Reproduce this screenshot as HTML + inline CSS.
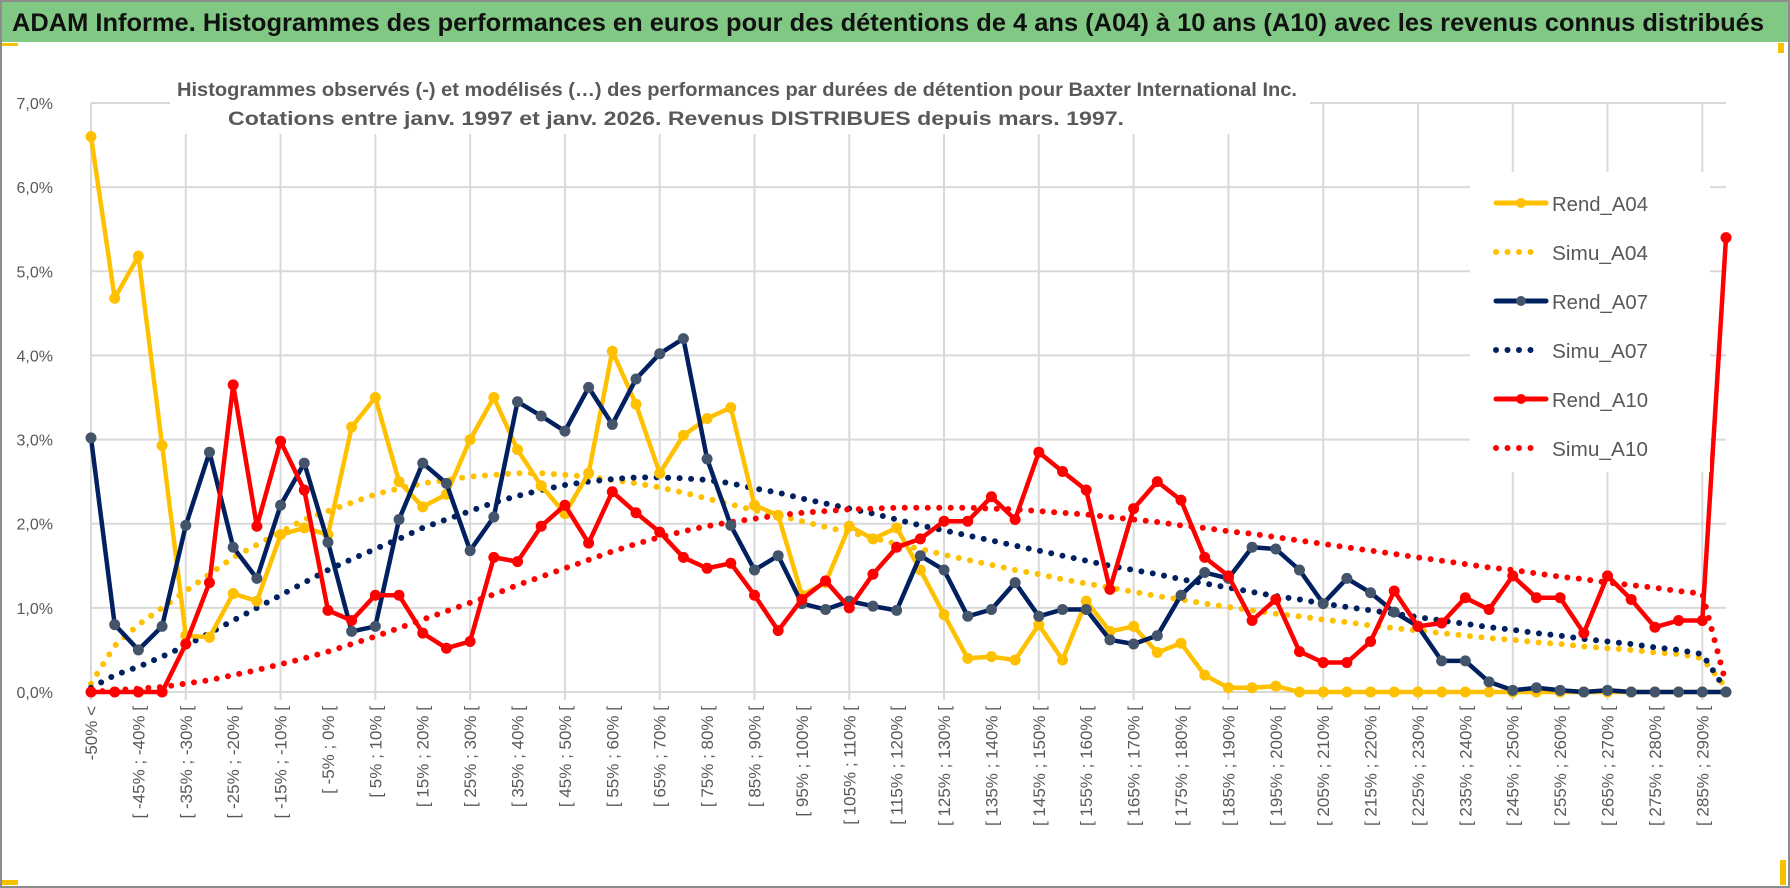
<!DOCTYPE html>
<html><head><meta charset="utf-8"><style>
html,body{margin:0;padding:0;background:#fff;}
svg{display:block;font-family:"Liberation Sans",sans-serif;}
</style></head><body>
<svg id="chart" width="1790" height="888" viewBox="0 0 1790 888" xmlns="http://www.w3.org/2000/svg">
<rect x="0" y="0" width="1790" height="888" fill="#fff"/>
<rect x="1" y="1" width="1788" height="886" fill="none" stroke="#8c8c8c" stroke-width="2"/>
<rect x="2" y="2" width="1786" height="40" fill="#80c883"/>
<text x="12" y="31" font-size="25" font-weight="bold" fill="#111" textLength="1752" lengthAdjust="spacingAndGlyphs">ADAM Informe. Histogrammes des performances en euros pour des détentions de 4 ans (A04) à 10 ans (A10) avec les revenus connus distribués</text>
<rect x="2" y="43" width="16" height="3" fill="#f5c000"/>
<rect x="1778" y="43" width="6" height="10" fill="#f5c000"/>
<rect x="2" y="880" width="16" height="5" fill="#f5c000"/>
<rect x="1780" y="860" width="6" height="25" fill="#f5c000"/>
<g id="grid"></g>
<rect x="170" y="72" width="1140" height="62" fill="#fff"/>
<text x="737" y="96" font-size="19" font-weight="bold" fill="#595959" text-anchor="middle" textLength="1120" lengthAdjust="spacingAndGlyphs">Histogrammes observés (-) et modélisés (…) des performances par durées de détention pour Baxter International Inc.</text>
<text x="676" y="125" font-size="19" font-weight="bold" fill="#595959" text-anchor="middle" textLength="896" lengthAdjust="spacingAndGlyphs">Cotations entre janv. 1997 et janv. 2026. Revenus DISTRIBUES depuis mars. 1997.</text>
<g id="series"></g>
<g id="legend"></g>
</svg>
<script>
const rendA04=[6.6,4.68,5.18,2.93,0.67,0.65,1.17,1.08,1.87,1.95,1.87,3.15,3.5,2.5,2.2,2.35,3.0,3.5,2.88,2.45,2.12,2.6,4.05,3.42,2.6,3.05,3.25,3.38,2.22,2.1,1.15,1.3,1.97,1.82,1.95,1.45,0.92,0.4,0.42,0.38,0.8,0.38,1.08,0.72,0.78,0.47,0.58,0.2,0.05,0.05,0.07,0,0,0,0,0,0,0,0,0,0,0,0,0,0,0,0,0,0,0];
const simuA04=[0.1,0.55,0.8,1.0,1.2,1.4,1.6,1.75,1.9,2.05,2.15,2.25,2.35,2.42,2.48,2.52,2.56,2.58,2.6,2.6,2.58,2.56,2.52,2.48,2.43,2.37,2.3,2.23,2.16,2.1,2.03,1.96,1.9,1.83,1.76,1.7,1.63,1.57,1.51,1.45,1.4,1.34,1.29,1.24,1.19,1.14,1.1,1.05,1.01,0.97,0.93,0.9,0.86,0.83,0.79,0.76,0.73,0.7,0.67,0.64,0.62,0.59,0.57,0.54,0.52,0.5,0.47,0.45,0.4,0.05];
const rendA07=[3.02,0.8,0.5,0.78,1.98,2.85,1.72,1.35,2.22,2.72,1.78,0.72,0.78,2.05,2.72,2.48,1.68,2.08,3.45,3.28,3.1,3.62,3.18,3.72,4.02,4.2,2.77,1.98,1.45,1.62,1.05,0.98,1.08,1.02,0.97,1.62,1.45,0.9,0.98,1.3,0.9,0.98,0.98,0.62,0.57,0.67,1.15,1.42,1.35,1.72,1.7,1.45,1.05,1.35,1.18,0.95,0.78,0.37,0.37,0.12,0.02,0.05,0.02,0,0.02,0,0,0,0,0];
const simuA07=[0.05,0.2,0.3,0.42,0.55,0.7,0.85,1.0,1.15,1.3,1.45,1.58,1.7,1.82,1.95,2.05,2.15,2.25,2.33,2.4,2.46,2.5,2.53,2.55,2.55,2.54,2.52,2.48,2.42,2.37,2.3,2.24,2.18,2.12,2.05,1.98,1.92,1.86,1.8,1.74,1.68,1.62,1.56,1.5,1.45,1.4,1.34,1.29,1.24,1.19,1.14,1.1,1.05,1.01,0.97,0.93,0.89,0.85,0.81,0.77,0.74,0.7,0.67,0.63,0.6,0.57,0.53,0.5,0.45,0.02];
const rendA10=[0,0,0,0,0.57,1.3,3.65,1.97,2.98,2.4,0.97,0.85,1.15,1.15,0.7,0.52,0.6,1.6,1.55,1.97,2.22,1.77,2.38,2.13,1.9,1.6,1.47,1.53,1.15,0.73,1.1,1.32,1.0,1.4,1.72,1.82,2.03,2.03,2.32,2.05,2.85,2.62,2.4,1.22,2.18,2.5,2.28,1.6,1.38,0.85,1.1,0.48,0.35,0.35,0.6,1.2,0.78,0.82,1.12,0.98,1.38,1.12,1.12,0.7,1.38,1.1,0.77,0.85,0.85,5.4];
const simuA10=[0,0.02,0.04,0.06,0.1,0.14,0.2,0.26,0.33,0.4,0.48,0.57,0.66,0.76,0.86,0.96,1.06,1.16,1.27,1.37,1.47,1.57,1.67,1.76,1.84,1.91,1.97,2.02,2.06,2.1,2.13,2.15,2.17,2.18,2.19,2.19,2.19,2.19,2.18,2.17,2.15,2.13,2.11,2.08,2.05,2.02,1.98,1.95,1.91,1.88,1.84,1.8,1.76,1.72,1.68,1.64,1.6,1.56,1.52,1.48,1.45,1.41,1.37,1.34,1.3,1.27,1.24,1.2,1.17,0.1];
const yTicks=[0,1,2,3,4,5,6,7];
const categories=["-50% <"];
for(let k=1;k<70;k++){const a=-50+5*(k-1);categories.push("[ "+a+"% ; "+(a+5)+"% [");}
const NS="http://www.w3.org/2000/svg";
const X0=91,X1=1726,Y0=692,Y7=103;
const xs=i=>X0+(X1-X0)*i/(categories.length-1);
const ys=v=>Y0-(Y0-Y7)*v/7;
function mk(t,a,p){const e=document.createElementNS(NS,t);for(const k in a)e.setAttribute(k,a[k]);p.appendChild(e);return e;}
const grid=document.getElementById('grid');
yTicks.forEach(t=>{
  const l=mk('line',{x1:X0,x2:X1,y1:ys(t),y2:ys(t),stroke:'#d9d9d9','stroke-width':2},grid);
  
  
  const tx=mk('text',{x:X0-38,y:ys(t)+6,'font-size':16,fill:'#595959','text-anchor':'end'},grid);
  tx.textContent=t.toFixed(1).replace('.',',')+'%';
  
  
});
for(let i=0;i<categories.length;i+=4){
  const l=mk('line',{x1:xs(i),x2:xs(i),y1:Y7,y2:Y0+8,stroke:'#d9d9d9','stroke-width':2},grid);
  
  
}
for(let i=0;i<categories.length;i+=2){
  const tx=mk('text',{x:0,y:0,'font-size':17,fill:'#595959','text-anchor':'end',transform:`translate(${xs(i)+6},${Y0+14}) rotate(-90)`},grid);
  tx.textContent=categories[i];
  
  
}
const series=[
 {name:'simu-a04',d:simuA04,c:'#ffc000',dot:true},
 {name:'simu-a07',d:simuA07,c:'#002060',dot:true},
 {name:'simu-a10',d:simuA10,c:'#ff0000',dot:true},
 {name:'rend-a04',d:rendA04,c:'#ffc000',m:'#ffc000'},
 {name:'rend-a07',d:rendA07,c:'#002060',m:'#44546a'},
 {name:'rend-a10',d:rendA10,c:'#ff0000',m:'#ff0000'}];
const sg=document.getElementById('series');
series.forEach(s=>{
  const pts=s.d.map((v,i)=>xs(i).toFixed(1)+','+ys(v).toFixed(1)).join(' ');
  const g=mk('g',{},sg);
  
  
  const pl=mk('polyline',{points:pts,fill:'none',stroke:s.c,'stroke-width':s.dot?6:4.5,'stroke-linejoin':'round','stroke-linecap':'round','stroke-dasharray':s.dot?'0 11.5':'none'},g);
  
  
  if(!s.dot){s.d.forEach((v,i)=>{
    const c=mk('circle',{cx:xs(i),cy:ys(v),r:5.5,fill:s.m},g);
    
    
  });}
});
const lg=document.getElementById('legend');
mk('rect',{x:1470,y:172,width:240,height:300,fill:'#fff'},lg);
const legendItems=[['Rend_A04','#ffc000',true,'#ffc000'],['Simu_A04','#ffc000',false],['Rend_A07','#002060',true,'#44546a'],['Simu_A07','#002060',false],['Rend_A10','#ff0000',true,'#ff0000'],['Simu_A10','#ff0000',false]];
legendItems.forEach((it,k)=>{
  const y=203+k*49;
  const g=mk('g',{},lg);
  
  
  if(it[2]){mk('line',{x1:1496,x2:1546,y1:y,y2:y,stroke:it[1],'stroke-width':5,'stroke-linecap':'round'},g);mk('circle',{cx:1521,cy:y,r:5,fill:it[3]},g);}
  else{mk('line',{x1:1496,x2:1540,y1:y,y2:y,stroke:it[1],'stroke-width':6,'stroke-linecap':'round','stroke-dasharray':'0 11.5'},g);}
  const t=mk('text',{x:1552,y:y+8,'font-size':20,fill:'#595959',textLength:96,lengthAdjust:'spacingAndGlyphs'},g);
  t.textContent=it[0];
});
</script>
</body></html>
